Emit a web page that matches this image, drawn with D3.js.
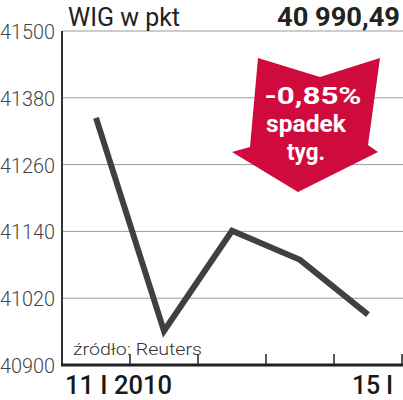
<!DOCTYPE html>
<html><head><meta charset="utf-8">
<script src="https://cdn.jsdelivr.net/npm/d3@7/dist/d3.min.js"></script>
<style>
html,body{margin:0;padding:0;background:#fff;}
svg{display:block;font-family:Roboto,"Noto Sans",sans-serif;}
</style></head>
<body>
<svg id="c" width="403" height="400"></svg>
<script>
const dates = ["11 I 2010", "12 I", "13 I", "14 I", "15 I"];
const values = [41344, 40961, 41141, 41089, 40990.49];
const yTicks = [40900, 41020, 41140, 41260, 41380, 41500];
const xLabels = ["11 I 2010", "", "", "", "15 I"];
const title = "WIG w pkt";
const lastValue = "40 990,49";
const badge = ["-0,85%", "spadek", "tyg."];
const source = "źródło: Reuters";

(function () {
const svg = d3.select("#c");
const pLeft = 62, pRight = 402, pTop = 31, pBottom = 365;

const x = d3.scaleBand().domain(dates).range([pLeft, pRight]).padding(0);
const y = d3.scaleLinear().domain([40900, 41500]).range([pBottom, pTop]);

// grid
svg.append("g").selectAll("line").data(yTicks.filter(t => t !== 40900)).join("line")
  .attr("x1", pLeft).attr("x2", 403)
  .attr("y1", d => y(d)).attr("y2", d => y(d))
  .attr("stroke", "#9a9a9a").attr("stroke-width", 1);

// y labels
svg.append("g").selectAll("text").data(yTicks).join("text")
  .attr("x", 55).attr("y", d => y(d) + 8)
  .attr("text-anchor", "end")
  .attr("font-size", 21).attr("font-weight", 300).attr("fill", "#444")
  .attr("textLength", 55).attr("lengthAdjust", "spacingAndGlyphs")
  .text(d => d);

// arrow badge
const arrow = [[258,58],[320,77],[380,58],[368,145],[378,152],[298,192],[232,152],[250,147]];
svg.append("path").attr("d", "M" + arrow.map(p => p.join(",")).join("L") + "Z")
  .attr("fill", "#cf0a3c");
const badgeSpec = [[313, 104, 97], [306, 132, 80], [306, 160, 38]];
badge.forEach((t, i) => {
  svg.append("text").attr("x", badgeSpec[i][0] - badgeSpec[i][2] / 2).attr("y", badgeSpec[i][1])
    .attr("font-size", 24).attr("font-weight", 700).attr("fill", "#fff")
    .attr("textLength", badgeSpec[i][2]).attr("lengthAdjust", "spacingAndGlyphs").text(t);
});

// line
const line = d3.line().x((d, i) => x(dates[i]) + x.bandwidth() / 2).y(d => y(d));
svg.append("path").datum(values).attr("d", line)
  .attr("fill", "none").attr("stroke", "#404040").attr("stroke-width", 6)
  .attr("stroke-linejoin", "miter");

// axes
svg.append("line").attr("x1", pLeft).attr("x2", pLeft).attr("y1", pTop).attr("y2", pBottom + 1)
  .attr("stroke", "#333").attr("stroke-width", 2);
svg.append("line").attr("x1", pLeft - 1).attr("x2", 403).attr("y1", pBottom).attr("y2", pBottom)
  .attr("stroke", "#222").attr("stroke-width", 3);
svg.append("g").selectAll("line").data(dates).join("line")
  .attr("x1", d => x(d) + x.bandwidth()).attr("x2", d => x(d) + x.bandwidth())
  .attr("y1", pBottom).attr("y2", pBottom - 11)
  .attr("stroke", "#222").attr("stroke-width", 1.5);

// x labels
svg.append("text").attr("x", 65).attr("y", 394).attr("font-size", 25).attr("font-weight", 500)
  .attr("fill", "#1a1a1a").attr("textLength", 107).attr("lengthAdjust", "spacingAndGlyphs").text(xLabels[0]);
svg.append("text").attr("x", 352).attr("y", 394).attr("font-size", 25).attr("font-weight", 500)
  .attr("fill", "#1a1a1a").attr("textLength", 41).attr("lengthAdjust", "spacing").text(xLabels[4]);

// source
svg.append("text").attr("x", 73).attr("y", 355).attr("font-size", 17).attr("font-weight", 300)
  .attr("fill", "#333").attr("textLength", 129).attr("lengthAdjust", "spacingAndGlyphs").text(source);

// title
svg.append("text").attr("x", 68).attr("y", 26).attr("font-size", 26).attr("font-weight", 400)
  .attr("fill", "#222").attr("textLength", 112).attr("lengthAdjust", "spacingAndGlyphs").text(title);
svg.append("text").attr("x", 400).attr("y", 26).attr("text-anchor", "end").attr("font-size", 26).attr("font-weight", 700)
  .attr("fill", "#222").attr("textLength", 123).attr("lengthAdjust", "spacingAndGlyphs").text(lastValue);
})();
</script>
</body></html>
